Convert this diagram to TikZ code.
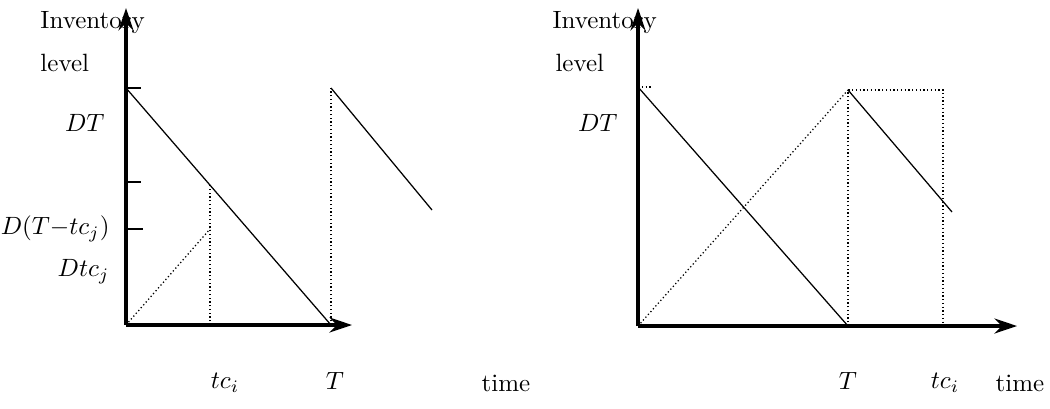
\documentclass[tikz,border=0pt]{standalone}
\usepackage{tikz}
\usetikzlibrary{positioning,arrows.meta}

\begin{document}
\begin{tikzpicture}[x=0.4pt,y=-0.4pt,
    axe/.style={line width=1.3pt,-{Stealth[length=9pt,width=6pt]}},
    stock/.style={line width=0.5pt},
    aux/.style={line width=0.5pt,densely dotted},
    lbl/.style={inner sep=0pt}]
  \useasboundingbox (0,0) rectangle (1050,408);

  % Panneau gauche : points de la courbe
  \coordinate (O1) at (126,325);
  \coordinate (Y1) at (126,8);
  \coordinate (X1) at (352,325);
  \coordinate (A1) at (126,88);
  \coordinate (B1) at (331,325);
  \coordinate (C1) at (331,88);
  \coordinate (E1) at (432,210);
  \coordinate (F1) at (210,325);
  \coordinate (G1) at (210,185);
  \coordinate (H1) at (210,229);
  \coordinate (K1) at (126,182);
  \coordinate (L1) at (126,229);

  % Axes et graduations
  \draw[axe] (O1) -- (Y1);
  \draw[axe] (O1) -- (X1);
  \draw[stock] (A1) -- ++(15,0);
  \draw[stock] (K1) -- ++(15,0);
  \draw[stock] (L1) -- ++(17,0);

  % Dents de scie et traits auxiliaires
  \draw[stock] (A1) -- (B1);
  \draw[aux] (B1) -- (C1);
  \draw[stock] (C1) -- (E1);
  \draw[aux] (F1) -- (G1);
  \draw[aux] (O1) -- (H1);

  % Textes du panneau gauche
  \node[lbl, anchor=west] (inv1) at (40,23) {Inventory};
  \node[lbl, anchor=west] (lev1) at (40,63) {level};
  \node[lbl, anchor=east] (dt1) at (105,123) {$DT$};
  \node[lbl, anchor=east] (dtt1) at (110,229) {$D(T{-}tc_j)$};
  \node[lbl, anchor=east] (dtc1) at (110,272) {$Dtc_j$};
  \node[lbl] (tc1) at (225,383) {$tc_i$};
  \node[lbl] (t1) at (335,381) {$T$};
  \node[lbl] (time1) at (506,383) {time};

  % Panneau droit : points de la courbe
  \coordinate (O2) at (638,326);
  \coordinate (Y2) at (638,8);
  \coordinate (X2) at (1017,326);
  \coordinate (A2) at (638,87);
  \coordinate (B2) at (848,326);
  \coordinate (C2) at (848,90);
  \coordinate (D2) at (943,90);
  \coordinate (F2) at (943,326);
  \coordinate (E2) at (952,212);

  % Axes
  \draw[axe] (O2) -- (Y2);
  \draw[axe] (O2) -- (X2);
  \draw[aux] (A2) -- ++(15,0);

  % Courbes et rectangle pointillé
  \draw[stock] (A2) -- (B2);
  \draw[aux] (O2) -- (C2);
  \draw[aux] (B2) -- (C2) -- (D2) -- (F2);
  \draw[stock] (C2) -- (E2);

  % Textes du panneau droit
  \node[lbl, anchor=west] (inv2) at (552,23) {Inventory};
  \node[lbl, anchor=west] (lev2) at (555,63) {level};
  \node[lbl, anchor=east] (dt2) at (618,123) {$DT$};
  \node[lbl] (t2) at (848,381) {$T$};
  \node[lbl] (tc2) at (945,383) {$tc_i$};
  \node[lbl] (time2) at (1020,383) {time};
\end{tikzpicture}
\end{document}
